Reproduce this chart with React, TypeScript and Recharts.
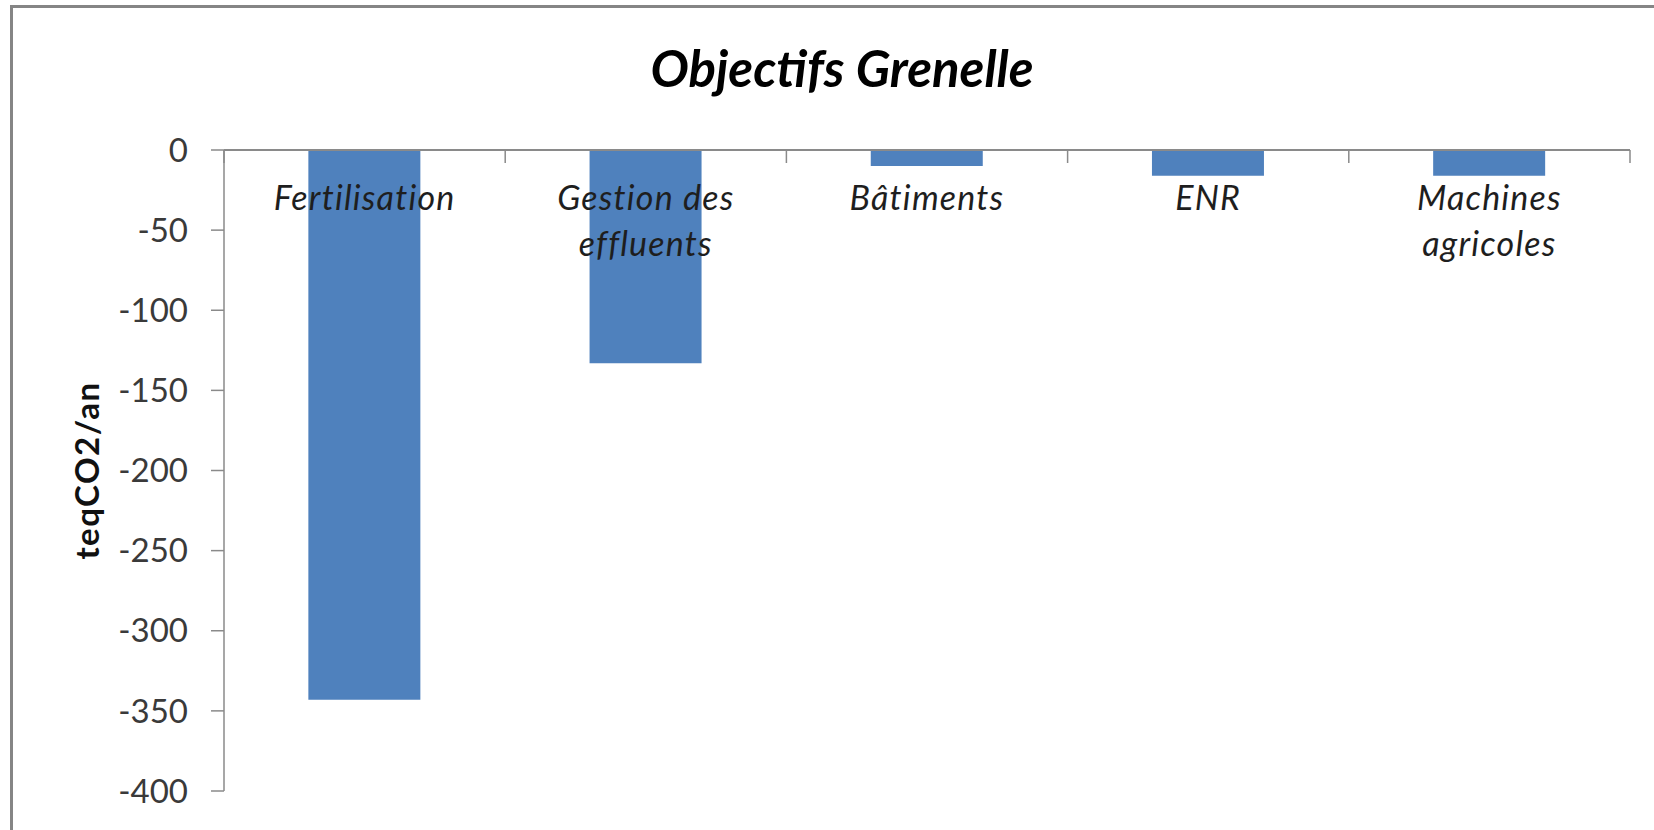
import { Bar, BarChart, XAxis, YAxis } from "recharts";

const categories = ["Fertilisation", "Gestion des effluents", "Bâtiments", "ENR", "Machines agricoles"];
const labelLines = [["Fertilisation"], ["Gestion des", "effluents"], ["Bâtiments"], ["ENR"], ["Machines", "agricoles"]];
const values = [-343, -133, -10, -16, -16];
const yTicks = [0, -50, -100, -150, -200, -250, -300, -350, -400];

const W = 1654;
const H = 830;
const PLOT_LEFT = 224;
const PLOT_RIGHT = 1630;
const PLOT_TOP = 150;
const PLOT_BOTTOM = 791;
const Y_AXIS_W = 150;
const X_AXIS_H = 1;
const BAND = (PLOT_RIGHT - PLOT_LEFT) / categories.length;
const FONT = "Lato, 'Open Sans', sans-serif";
const AXIS_GREY = "#8a8a8a";

const data = categories.map((c, i) => ({ cat: c, value: values[i] }));

// category labels sit under the zero line, with Excel-style boundary ticks
function CategoryTick(props: any) {
  const { x, payload, index } = props;
  const lines = labelLines[index] ?? [String(payload.value)];
  const left = x - BAND / 2;
  const right = x + BAND / 2;
  return (
    <g>
      <line x1={left} y1={PLOT_TOP} x2={left} y2={PLOT_TOP + 13} stroke={AXIS_GREY} strokeWidth={1.5} />
      {index === categories.length - 1 ? (
        <line x1={right} y1={PLOT_TOP} x2={right} y2={PLOT_TOP + 13} stroke={AXIS_GREY} strokeWidth={1.5} />
      ) : null}
      {lines.map((t, i) => (
        <text
          key={i}
          x={x}
          y={PLOT_TOP + 60 + i * 46}
          textAnchor="middle"
          fontFamily={FONT}
          fontStyle="italic"
          fontSize={34}
          letterSpacing={1.2}
          fill="#1e1e1e"
        >
          {t}
        </text>
      ))}
    </g>
  );
}

function YLabel(props: any) {
  const vb = props.viewBox || {};
  const cx = 86;
  const cy = vb.y + vb.height / 2;
  return (
    <text
      x={cx}
      y={cy}
      transform={`rotate(-90 ${cx} ${cy})`}
      textAnchor="middle"
      dominantBaseline="central"
      fontFamily={FONT}
      fontWeight={700}
      fontSize={33}
      letterSpacing={1.5}
      fill="#111"
    >
      teqCO2/an
    </text>
  );
}

export default function App() {
  return (
    <div style={{ position: "fixed", left: 0, top: 0, width: W, height: H, background: "#fff", overflow: "hidden" }}>
      <div
        style={{
          position: "absolute",
          left: 10,
          top: 5,
          width: W + 40,
          height: H + 40,
          border: "3px solid #858585",
          boxSizing: "border-box",
        }}
      />
      <div
        style={{
          position: "absolute",
          left: 0,
          width: W,
          top: 38,
          textAlign: "center",
          paddingLeft: 30,
          boxSizing: "border-box",
          fontFamily: FONT,
          fontWeight: 700,
          fontStyle: "italic",
          fontSize: 51,
          lineHeight: "60px",
          color: "#000",
        }}
      >
        Objectifs Grenelle
      </div>
      <div style={{ position: "absolute", left: 0, top: 0 }}>
        <BarChart
          width={W}
          height={H}
          data={data}
          barCategoryGap="30%"
          margin={{
            top: PLOT_TOP - X_AXIS_H,
            left: PLOT_LEFT - Y_AXIS_W,
            right: W - PLOT_RIGHT,
            bottom: H - PLOT_BOTTOM,
          }}
        >
          <XAxis
            dataKey="cat"
            orientation="top"
            height={X_AXIS_H}
            interval={0}
            tickLine={false}
            axisLine={{ stroke: AXIS_GREY, strokeWidth: 2 }}
            tick={<CategoryTick />}
          />
          <YAxis
            type="number"
            domain={[-400, 0]}
            ticks={yTicks}
            width={Y_AXIS_W}
            tickSize={13}
            tickMargin={23}
            axisLine={{ stroke: AXIS_GREY, strokeWidth: 1.5 }}
            tickLine={{ stroke: AXIS_GREY, strokeWidth: 1.5 }}
            tick={{ fontFamily: FONT, fontSize: 33, fill: "#3a3a3a" }}
            label={<YLabel />}
          />
          <Bar dataKey="value" fill="#4f81bd" isAnimationActive={false} />
        </BarChart>
      </div>
    </div>
  );
}
